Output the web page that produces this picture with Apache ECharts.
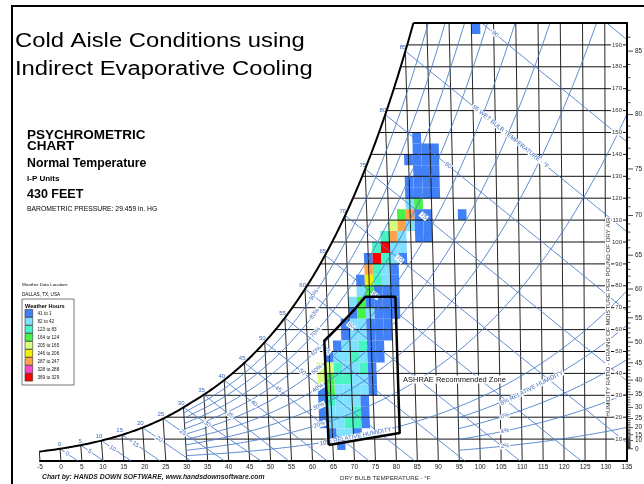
<!DOCTYPE html>
<html>
<head>
<meta charset="utf-8">
<script src="https://cdn.jsdelivr.net/npm/echarts@6/dist/echarts.min.js"></script>
<style>
  html, body { margin: 0; padding: 0; background: #fff; }
  #chart { width: 644px; height: 484px; }
</style>
</head>
<body>
<div id="chart"></div>
<script>
// weather hours legend
const legendLabels = ['41 to 1', '82 to 42', '123 to 83', '164 to 124', '205 to 165', '246 to 206', '287 to 247', '328 to 288', '369 to 329']
const legendColors = ['#4080f8', '#80e0ff', '#48f4c4', '#48f048', '#d4ff84', '#f0f000', '#ffa448', '#ff48c8', '#ff0000']

// cells: [grains at bottom of row, first dry bulb °F, level of each 2°F cell] (-1 = empty)
const heatRows = [
  [195, 100, [0]],
  [145, 86, [0]],
  [140, 86, [0, 0, 0]],
  [135, 84, [0, 0, 0, 0]],
  [130, 86, [0, 0, 0]],
  [125, 84, [0, 0, 0, 0]],
  [120, 84, [0, 0, 0, 0]],
  [115, 84, [1, 3]],
  [110, 82, [3, 6, 0, 0, -1, -1, -1, 0]],
  [105, 80, [4, 6, 1, 0, 0]],
  [100, 78, [2, 6, 1, -1, 0, 0]],
  [95, 76, [2, 8, 1, 1]],
  [90, 74, [0, 8, 2, 1, 0]],
  [85, 74, [6, 2, 1, 0]],
  [80, 72, [0, 5, 2, 1, 0]],
  [75, 72, [1, 3, 0, 0, 0]],
  [70, 70, [1, 3, 0, 0, 0, 0]],
  [65, 70, [0, 3, 1, 0, 0, 0]],
  [60, 68, [0, 1, 1, 0, 0, 0]],
  [55, 68, [0, 1, 1, 0, 0, 0]],
  [50, 66, [0, 1, 1, 2, 0, 0]],
  [45, 64, [0, 1, 1, 2, 1, 0, 0]],
  [40, 62, [4, 4, 2, 1, 1, 2, 0]],
  [35, 62, [4, 3, 2, 2, 1, 1, 0]],
  [30, 62, [0, 3, 1, 1, 1, 1, 0]],
  [25, 62, [0, 2, 1, 1, 1, 0]],
  [20, 62, [0, 1, 1, 1, 2, 0]],
  [15, 62, [0, 1, 1, 2, 2, 0]],
  [10, 64, [0, 1, 1, 0]],
  [5, 66, [0]]
]

// ASHRAE recommended zone outline [dry bulb °F, grains]
const zoneT = [64, 64, 66.5, 69, 71.5, 74, 81, 81, 64]
const zoneW = [7.3, 55, 59.5, 64.5, 69.5, 75, 75, 12.8, 7.3]

// chart lines and ticks
const dryBulbTicks = []
for (let t = -5; t <= 135; t += 5) dryBulbTicks.push(t)
const grainTicks = [10, 20, 30, 40, 50, 60, 70, 80, 90, 100, 110, 120, 130, 140, 150, 160, 170, 180, 190]
const wetBulbTicks = [0, 5, 10, 15, 20, 25, 30, 35, 40, 45, 50, 55, 60, 65, 70, 75, 80, 85, 90, 95]
const rhTicks = [10, 20, 30, 40, 50, 60, 70, 80, 90]
const rhLowTicks = [2, 4, 6, 8]
const dewLabels = [0, 10, 15, 20, 25, 30, 35, 40, 45, 50, 55, 60, 65, 70, 75, 80, 85]

const FONT = '"Liberation Sans", Arial, sans-serif'
const BLUE = '#4d7fcc'
const BLUE_TXT = '#3b69b9'

// psychrometrics at 29.459 in. Hg
const P = 14.470
function pws(t) {
  const T = t + 459.67
  if (t >= 32) return Math.exp(-1.0440397e4 / T - 1.1294650e1 - 2.7022355e-2 * T + 1.2890360e-5 * T * T - 2.4780681e-9 * T * T * T + 6.5459673 * Math.log(T))
  return Math.exp(-1.0214165e4 / T - 4.8932428 - 5.3765794e-3 * T + 1.9202377e-7 * T * T + 3.5575832e-10 * T ** 3 - 9.0344688e-14 * T ** 4 + 4.1635019 * Math.log(T))
}
function grainsAt(t, rh) {
  const p = rh * pws(t)
  return 7000 * 0.621945 * p / (P - p)
}
function wbGrains(t, twb) {
  const ws = grainsAt(twb, 1) / 7000
  let w
  if (twb >= 32) w = ((1093 - 0.556 * twb) * ws - 0.240 * (t - twb)) / (1093 + 0.444 * t - twb)
  else w = ((1220 - 0.04 * twb) * ws - 0.240 * (t - twb)) / (1220 + 0.444 * t - 0.48 * twb)
  return w * 7000
}
function solve(f, a, b) {
  let fa = f(a)
  for (let i = 0; i < 60; i++) {
    const m = (a + b) / 2, fm = f(m)
    if ((fm > 0) === (fa > 0)) { a = m; fa = fm } else b = m
  }
  return (a + b) / 2
}
const satT = w => solve(t => grainsAt(t, 1) - w, -20, 140)
// dry bulb lines fan out slightly toward the top of the chart
const K = 0.000305
const pt = (t, w) => [135 - (135 - t) * (1 + K * w), w]

function wbLine(twb) {
  const pts = []
  let t0 = twb
  if (grainsAt(twb, 1) > 200) t0 = solve(t => wbGrains(t, twb) - 200, twb, 135)
  for (let t = t0; t < 135; t += 1) {
    const w = wbGrains(t, twb)
    if (w <= 0) break
    pts.push(pt(t, w))
  }
  const wEnd = wbGrains(135, twb)
  if (wEnd >= 0) pts.push(pt(135, wEnd))
  else pts.push(pt(solve(t => wbGrains(t, twb), twb, 135), 0))
  return pts
}
function rhLine(rh, tFrom) {
  const pts = []
  for (let t = tFrom; t <= 135; t += 1) {
    const w = grainsAt(t, rh)
    if (w > 200) { pts.push(pt(solve(x => grainsAt(x, rh) - 200, t - 1, t), 200)); break }
    pts.push(pt(t, w))
  }
  return pts
}

const tTop = satT(200)
const satCurve = []
for (let t = -5; t < tTop; t += 0.5) satCurve.push(pt(t, grainsAt(t, 1)))
satCurve.push(pt(tTop, 200))

const dryLines = dryBulbTicks.map(t => ({ coords: [pt(t, 0), pt(t, Math.min(grainsAt(t, 1), 200))] }))
const grainRows = grainTicks.map(w => ({ coords: [pt(satT(w), w), pt(135, w)] }))
const blueLines = wetBulbTicks.map(t => ({ coords: wbLine(t) }))
  .concat(rhTicks.map(r => ({ coords: rhLine(r / 100, 30) })))
  .concat(rhLowTicks.map(r => ({ coords: rhLine(r / 100, 95) })))

// cells
const cells = []
heatRows.forEach(([w0, t0, levels]) => levels.forEach((lv, i) => { if (lv >= 0) cells.push([t0 + 2 * i, w0, lv]) }))

// labels on the chart
const labelItems = []
wetBulbTicks.filter(t => t <= 85).forEach(t => {
  labelItems.push({ t, w: grainsAt(t, 1), text: String(t), align: 'right', va: 'bottom', dx: 1, dy: -1 })
})
wetBulbTicks.filter(t => t <= 80).forEach(twb => {
  const ti = solve(t => wbGrains(t, twb) - grainsAt(t, 0.55), twb + 0.01, twb + 60)
  labelItems.push({ t: ti, w: wbGrains(ti, twb), d: [ti + 1, wbGrains(ti + 1, twb)], text: String(twb), bg: true })
})
{
  const ti = solve(t => wbGrains(t, 85) - grainsAt(t, 0.55), 85.01, 140)
  labelItems.push({ t: ti, w: wbGrains(ti, 85), d: [ti + 1, wbGrains(ti + 1, 85)], text: '85 WET BULB TEMPERATURE - °F', align: 'left', bg: true })
  const t90 = solve(t => wbGrains(t, 90) - 195, 90, 135)
  labelItems.push({ t: t90, w: 195, d: [t90 + 1, wbGrains(t90 + 1, 90)], text: '90', bg: true })
}
rhTicks.filter(r => r >= 20).forEach(r => {
  labelItems.push({ t: 62, w: grainsAt(62, r / 100), d: [63, grainsAt(63, r / 100)], text: r + '%', bg: true })
})
labelItems.push({ t: 70.5, w: grainsAt(70.5, 0.1), d: [71.5, grainsAt(71.5, 0.1)], text: '10% RELATIVE HUMIDITY', bg: true })
rhLowTicks.filter(r => r < 8).forEach(r => {
  labelItems.push({ t: 106, w: grainsAt(106, r / 100), d: [107, grainsAt(107, r / 100)], text: r + '%', bg: true })
})
labelItems.push({ t: 112.5, w: grainsAt(112.5, 0.08), d: [113.5, grainsAt(113.5, 0.08)], text: '8% RELATIVE HUMIDITY', bg: true })

const dewTicks = []
for (let d = 0; d <= 86; d++) dewTicks.push(d)

const chart = echarts.init(document.getElementById('chart'))

const legendGraphics = []
legendLabels.forEach((lab, i) => {
  legendGraphics.push({ type: 'rect', shape: { x: 25, y: 309.5 + i * 8, width: 7.7, height: 7.6 }, style: { fill: legendColors[i], stroke: '#333', lineWidth: 0.6 }, z: 100 })
  legendGraphics.push({ type: 'text', x: 37.5, y: 313.5 + i * 8, style: { text: lab, font: '4.6px ' + FONT, fill: '#111', textVerticalAlign: 'middle', verticalAlign: 'middle' }, z: 100 })
})

const txt = (x, y, text, font, extra) => Object.assign({ type: 'text', x, y, z: 100, style: { text, font, fill: '#000', textVerticalAlign: 'middle', verticalAlign: 'middle' } }, extra || {})

const option = {
  animation: false,
  grid: { left: 40, right: 17, top: 23, bottom: 23 },
  xAxis: {
    type: 'value', min: -5, max: 135, interval: 5,
    axisLine: { show: true, onZero: false, lineStyle: { color: '#000', width: 2 } },
    axisTick: { show: false },
    splitLine: { show: false },
    axisLabel: { fontSize: 6.5, color: '#222', margin: 3, fontFamily: 'Liberation Sans' }
  },
  yAxis: {
    type: 'value', position: 'right', min: 0, max: 200, interval: 10, z: 10,
    axisLine: { show: true, onZero: false, lineStyle: { color: '#000', width: 2 } },
    axisTick: { show: false },
    splitLine: { show: false },
    axisLabel: {
      inside: true, margin: 4, fontSize: 6, color: '#333', fontFamily: 'Liberation Sans',
      backgroundColor: '#fff', padding: [0, 1],
      formatter: v => (v > 0 && v < 200) ? String(v) : ''
    }
  },
  series: [
    {
      type: 'custom', z: 1, silent: true,
      data: cells.map(c => pt(c[0] + 1, c[1] + 2.5)),
      renderItem: (params, api) => {
        const [t0, w0, lv] = cells[params.dataIndex]
        const points = [[t0, w0], [t0 + 2, w0], [t0 + 2, w0 + 5], [t0, w0 + 5]].map(c => api.coord(pt(c[0], c[1])))
        return { type: 'polygon', shape: { points }, style: { fill: legendColors[lv] } }
      }
    },
    { type: 'lines', coordinateSystem: 'cartesian2d', polyline: true, silent: true, z: 2, data: grainRows, lineStyle: { color: '#111', width: 1, opacity: 1 } },
    { type: 'lines', coordinateSystem: 'cartesian2d', polyline: true, silent: true, z: 2, data: dryLines, lineStyle: { color: '#111', width: 0.9, opacity: 1 } },
    { type: 'lines', coordinateSystem: 'cartesian2d', polyline: true, silent: true, z: 3, data: blueLines, lineStyle: { color: BLUE, width: 0.9, opacity: 1 } },
    {
      type: 'custom', z: 5, silent: true, clip: false,
      data: labelItems.map(L => pt(L.t, L.w)),
      renderItem: (params, api) => {
        const L = labelItems[params.dataIndex]
        const p = api.coord(pt(L.t, L.w))
        let rot = 0
        if (L.d) {
          const q = api.coord(pt(L.d[0], L.d[1]))
          rot = -Math.atan2(q[1] - p[1], q[0] - p[0])
        }
        const style = {
          text: L.text, fill: BLUE_TXT, font: '6px ' + FONT,
          align: L.align || 'center', textAlign: L.align || 'center',
          verticalAlign: L.va || 'middle', textVerticalAlign: L.va || 'middle'
        }
        if (L.bg) { style.backgroundColor = '#fff'; style.padding = [0, 1] }
        return { type: 'text', x: p[0] + (L.dx || 0), y: p[1] + (L.dy || 0), rotation: rot, style }
      }
    },
    {
      type: 'line', z: 6, silent: true, symbol: 'none',
      data: zoneT.map((t, i) => pt(t, zoneW[i])),
      lineStyle: { color: '#000', width: 2.5 }
    },
    {
      type: 'lines', coordinateSystem: 'cartesian2d', polyline: true, silent: true, z: 6,
      data: [{ coords: satCurve }, { coords: [pt(tTop, 200), pt(135, 200)] }],
      lineStyle: { color: '#000', width: 2, opacity: 1 }
    },
    {
      type: 'custom', z: 6, silent: true, clip: false,
      data: dewTicks.map(d => [135, grainsAt(d, 1)]),
      renderItem: (params, api) => {
        const dp = dewTicks[params.dataIndex]
        const p = api.coord([135, grainsAt(dp, 1)])
        const major = dewLabels.includes(dp)
        const children = [{ type: 'line', shape: { x1: p[0], y1: p[1], x2: p[0] + (major ? 6 : 3.5), y2: p[1] }, style: { stroke: '#000', lineWidth: 0.7 } }]
        if (major) children.push({ type: 'text', x: p[0] + 8, y: p[1], style: { text: String(dp), font: '6.5px ' + FONT, fill: '#222', align: 'left', textAlign: 'left', verticalAlign: 'middle', textVerticalAlign: 'middle' } })
        return { type: 'group', children }
      }
    }
  ],
  graphic: [
    { type: 'line', z: 100, shape: { x1: 11, y1: 6, x2: 650, y2: 6 }, style: { stroke: '#000', lineWidth: 2 } },
    { type: 'line', z: 100, shape: { x1: 12, y1: 5, x2: 12, y2: 490 }, style: { stroke: '#000', lineWidth: 2 } },
    txt(15, 41.7, 'Cold Aisle Conditions using', '20px ' + FONT, { scaleX: 1.19 }),
    txt(15, 69.9, 'Indirect Evaporative Cooling', '20px ' + FONT, { scaleX: 1.19 }),
    txt(27, 135, 'PSYCHROMETRIC', 'bold 13.5px ' + FONT),
    txt(27, 146, 'CHART', 'bold 13.5px ' + FONT),
    txt(27, 163.8, 'Normal Temperature', 'bold 12.3px ' + FONT),
    txt(27, 178.4, 'I-P Units', 'bold 8px ' + FONT),
    txt(27, 194.2, '430 FEET', 'bold 12.5px ' + FONT),
    txt(27, 209.3, 'BAROMETRIC PRESSURE: 29.459 in. HG', '6.8px ' + FONT),
    txt(22, 285, 'Weather Data Location:', '4.4px ' + FONT),
    txt(22, 294.5, 'DALLAS, TX, USA', '4.6px ' + FONT),
    { type: 'rect', z: 99, shape: { x: 22, y: 299, width: 52, height: 86 }, style: { fill: '#fff', stroke: '#555', lineWidth: 0.8 } },
    txt(25, 306, 'Weather Hours', 'bold 5.6px ' + FONT),
    ...legendGraphics,
    txt(403, 379.5, 'ASHRAE Recommended Zone', '7.5px ' + FONT, { style: { text: 'ASHRAE Recommended Zone', font: '7.5px ' + FONT, fill: '#111', textVerticalAlign: 'middle', verticalAlign: 'middle', backgroundColor: '#fff' } }),
    txt(608, 317, 'HUMIDITY RATIO - GRAINS OF MOISTURE PER POUND OF DRY AIR', '6.2px ' + FONT, {
      rotation: Math.PI / 2,
      style: { text: 'HUMIDITY RATIO - GRAINS OF MOISTURE PER POUND OF DRY AIR', font: '6.2px ' + FONT, fill: '#333', textAlign: 'center', align: 'center', textVerticalAlign: 'middle', verticalAlign: 'middle', backgroundColor: '#fff' }
    }),
    txt(42, 477, 'Chart by: HANDS DOWN SOFTWARE, www.handsdownsoftware.com', 'italic bold 6.8px ' + FONT, { style: { text: 'Chart by: HANDS DOWN SOFTWARE, www.handsdownsoftware.com', font: 'italic bold 6.8px ' + FONT, fill: '#222', textVerticalAlign: 'middle', verticalAlign: 'middle' } }),
    txt(340, 478, 'DRY BULB TEMPERATURE - °F', '6.2px ' + FONT, { style: { text: 'DRY BULB TEMPERATURE - °F', font: '6.2px ' + FONT, fill: '#333', textVerticalAlign: 'middle', verticalAlign: 'middle' } })
  ]
}

chart.setOption(option)
</script>
</body>
</html>
